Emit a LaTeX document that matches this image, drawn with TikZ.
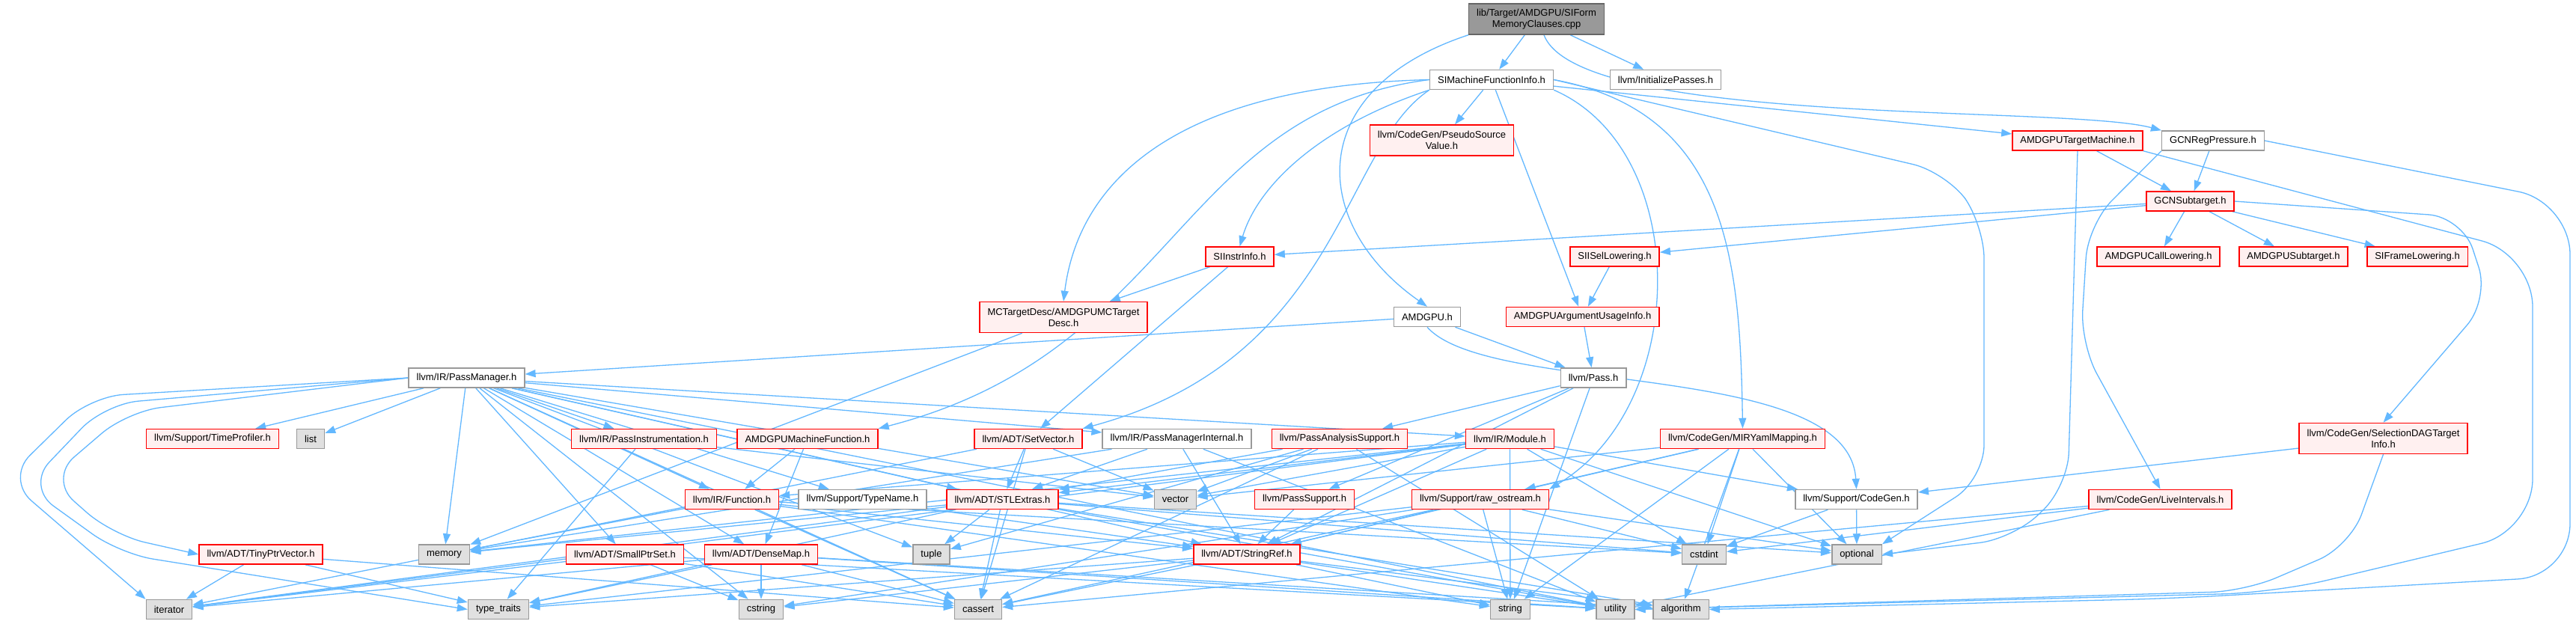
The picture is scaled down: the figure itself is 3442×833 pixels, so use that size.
\documentclass[tikz,border=0pt]{standalone}
\usepackage{fontspec}
\setmainfont{Liberation Sans}
\usepackage{xcolor}
\usepackage{tikz}
\usetikzlibrary{arrows.meta,backgrounds}

\definecolor{edgeblue}{HTML}{63B8FF}
\definecolor{truncred}{HTML}{FF0000}
\definecolor{truncfill}{HTML}{FFF0F0}
\definecolor{boxgray}{HTML}{999999}
\definecolor{sysfill}{HTML}{E0E0E0}
\definecolor{topfill}{HTML}{999999}
\definecolor{topline}{HTML}{666666}

\begin{document}
\begin{tikzpicture}[x=1pt, y=1pt,
  box/.style={draw, line width=1.5pt, minimum height=26pt, inner xsep=10.5pt, inner ysep=2pt,
    font=\fontsize{13pt}{15pt}\selectfont, align=center},
  redbox/.style={box, draw=truncred, fill=truncfill},
  whitebox/.style={box, draw=boxgray, fill=white},
  sysbox/.style={box, draw=boxgray, fill=sysfill},
  topbox/.style={box, draw=topline, fill=topfill},
  twoline/.style={minimum height=41pt},
  edge/.style={draw=edgeblue, line width=1.3pt, -{Triangle[length=14pt,width=10pt]}},
  routed/.style={edge, rounded corners=45pt}]
\useasboundingbox (0,0) rectangle (3442,-833);

% source file and its direct includes
\node[topbox, twoline] (top) at (2053,-25.5) {lib/Target/AMDGPU/SIForm\\MemoryClauses.cpp};
\node[whitebox] (simfi) at (1993,-106.5) {SIMachineFunctionInfo.h};
\node[whitebox] (initp) at (2225.5,-106.5) {llvm/InitializePasses.h};

% AMDGPU target headers
\node[redbox, twoline] (psv) at (1926.5,-187.5) {llvm/CodeGen/PseudoSource\\Value.h};
\node[redbox] (amdtm) at (2776,-188) {AMDGPUTargetMachine.h};
\node[whitebox] (gcnrp) at (2957,-188) {GCNRegPressure.h};
\node[redbox] (gcnsub) at (2926.5,-269) {GCNSubtarget.h};
\node[redbox] (siinstr) at (1656.5,-343) {SIInstrInfo.h};
\node[redbox] (siisel) at (2157.5,-343) {SIISelLowering.h};
\node[redbox] (calllow) at (2884,-343) {AMDGPUCallLowering.h};
\node[redbox] (amdsub) at (3064.5,-343) {AMDGPUSubtarget.h};
\node[redbox] (siframe) at (3230,-343) {SIFrameLowering.h};
\node[redbox, twoline] (mctd) at (1421,-424) {MCTargetDesc/AMDGPUMCTarget\\Desc.h};
\node[whitebox] (amdgpu) at (1907,-423.5) {AMDGPU.h};
\node[redbox] (argusage) at (2114.5,-423.5) {AMDGPUArgumentUsageInfo.h};
\node[whitebox] (pm) at (623.5,-505) {llvm/IR/PassManager.h};
\node[whitebox] (pass) at (2129,-505) {llvm/Pass.h};

% llvm headers, upper row
\node[redbox] (timeprof) at (284,-586.5) {llvm/Support/TimeProfiler.h};
\node[sysbox] (list) at (415,-586.5) {list};
\node[redbox] (passinstr) at (860.5,-586.5) {llvm/IR/PassInstrumentation.h};
\node[redbox] (amdmf) at (1079,-586.5) {AMDGPUMachineFunction.h};
\node[redbox] (setvec) at (1374,-586.5) {llvm/ADT/SetVector.h};
\node[whitebox] (pmint) at (1572.5,-586.5) {llvm/IR/PassManagerInternal.h};
\node[redbox] (passana) at (1790,-586.5) {llvm/PassAnalysisSupport.h};
\node[redbox] (module) at (2017.5,-586.5) {llvm/IR/Module.h};
\node[redbox] (miryaml) at (2328.5,-586.5) {llvm/CodeGen/MIRYamlMapping.h};
\node[redbox, twoline] (seldag) at (3184.5,-586) {llvm/CodeGen/SelectionDAGTarget\\Info.h};

% llvm headers, middle row
\node[redbox] (function) at (978,-667.5) {llvm/IR/Function.h};
\node[whitebox] (typename) at (1152.5,-667.5) {llvm/Support/TypeName.h};
\node[redbox] (stlext) at (1339.5,-667.5) {llvm/ADT/STLExtras.h};
\node[sysbox] (vector) at (1570.5,-667.5) {vector};
\node[redbox] (passsup) at (1743,-667.5) {llvm/PassSupport.h};
\node[redbox] (rawos) at (1978,-667.5) {llvm/Support/raw\_ostream.h};
\node[whitebox] (codegen) at (2480.5,-667.5) {llvm/Support/CodeGen.h};
\node[redbox] (liveint) at (2886.5,-667.5) {llvm/CodeGen/LiveIntervals.h};

% llvm headers, lower row
\node[redbox] (tinyptr) at (348.5,-741) {llvm/ADT/TinyPtrVector.h};
\node[sysbox] (memory) at (593.5,-741) {memory};
\node[redbox] (smallptr) at (835,-741) {llvm/ADT/SmallPtrSet.h};
\node[redbox] (densemap) at (1017,-741) {llvm/ADT/DenseMap.h};
\node[sysbox] (tuple) at (1244.5,-741) {tuple};
\node[redbox] (stringref) at (1666,-741) {llvm/ADT/StringRef.h};
\node[sysbox] (cstdint) at (2277,-741) {cstdint};
\node[sysbox] (optional) at (2481,-741) {optional};

% system headers
\node[sysbox] (iterator) at (226,-814.5) {iterator};
\node[sysbox] (typetraits) at (666,-814.5) {type\_traits};
\node[sysbox] (cstring) at (1017,-814.5) {cstring};
\node[sysbox] (cassert) at (1307,-814.5) {cassert};
\node[sysbox] (string) at (2018,-814.5) {string};
\node[sysbox] (utility) at (2158.5,-814.5) {utility};
\node[sysbox] (algorithm) at (2246,-814.5) {algorithm};

\begin{scope}[on background layer]
\fill[white] (0,0) rectangle (3442,-833);

% includes of the source file
\draw[edge] (top.south west) .. controls (1740,-120) and (1750,-300) .. (amdgpu.north);
\draw[edge] (top) -- (simfi);
\draw[edge] (top) -- (initp);
\draw[edge] ([xshift=10pt]top.south) .. controls (2110,-170) and (2760,-140) .. (gcnrp.north west);

% SIMachineFunctionInfo.h
\foreach \t in {argusage,amdtm,psv} \draw[edge] (simfi) -- (\t);
\draw[edge] (simfi.west) .. controls (1560,-115) and (1440,-250) .. (mctd.north);
\draw[edge] (simfi.west) .. controls (1573,-150) and (1573,-470) .. (amdmf.north east);
\draw[edge] (simfi.south west) .. controls (1791,-200) and (1791,-480) .. (setvec.north east);
\draw[edge] (simfi.south west) .. controls (1760,-170) and (1680,-250) .. (siinstr.north);
\draw[edge] (simfi.south east) .. controls (2260,-200) and (2260,-540) .. (rawos.north east);
\draw[edge] (simfi.east) .. controls (2310,-150) and (2325,-350) .. (miryaml.north);
\draw[routed] (simfi.east) -- (2600,-230) -- (2651,-300) -- (2651,-640) -- (optional.north east);

% AMDGPU.h
\draw[edge] (amdgpu) -- (pm);
\draw[edge] (amdgpu) -- (pass);
\draw[edge] (amdgpu.south) .. controls (1990,-530) and (2470,-480) .. (codegen.north);

% GCNRegPressure.h and AMDGPUTargetMachine.h
\draw[edge] (gcnrp) -- (gcnsub);
\draw[routed] (gcnrp.south west) -- (2790,-300) -- (2780,-460) -- (liveint.north);
\draw[routed, rounded corners=70pt] (gcnrp.east) -- (3434,-270) -- (3434,-770) -- (2900,-800) -- (algorithm.east);
\draw[edge] (amdtm) -- (gcnsub);
\draw[routed] (amdtm.south) -- (2763,-650) -- (2690,-720) -- (optional.east);
\draw[routed, rounded corners=70pt] (amdtm.south east) -- (3384,-340) -- (3384,-710) -- (3040,-792) -- (utility.east);

% GCNSubtarget.h
\foreach \t in {siinstr,siisel,calllow,amdsub,siframe} \draw[edge] (gcnsub) -- (\t);
\draw[routed] (gcnsub.east) -- (3290,-290) -- (3326,-400) -- (seldag.north);
\draw[edge] (seldag) -- (codegen);
\draw[routed] (seldag.south) -- (3140,-730) -- (3000,-790) -- (utility.east);

\draw[edge] (siisel) -- (argusage);
\draw[edge] (argusage) -- (pass);
\foreach \t in {mctd,setvec} \draw[edge] (siinstr) -- (\t);
\draw[edge] (mctd) -- (memory);
\foreach \t in {passana,passsup,stringref,string} \draw[edge] (pass) -- (\t);

% PassManager.h
\foreach \t in {densemap,stlext,smallptr,stringref,function,module,passinstr,pmint,
  timeprof,typename,cassert,cstring,list,memory,tuple,utility,vector}
  \draw[edge] (pm) -- (\t);
\draw[routed] (pm.west) -- (120,-530) -- (8,-640) -- (iterator.north west);
\draw[routed] (pm.west) -- (140,-540) -- (35,-650) -- (160,-740) -- (typetraits.west);
\draw[routed] (pm.west) -- (170,-550) -- (65,-640) -- (150,-715) -- (tinyptr.west);

% lower llvm headers
\foreach \t in {function,densemap} \draw[edge] (amdmf) -- (\t);
\foreach \t in {stlext,vector,iterator,cassert} \draw[edge] (setvec) -- (\t);
\foreach \t in {stlext,stringref,memory,utility} \draw[edge] (pmint) -- (\t);
\foreach \t in {stlext,cassert,tuple,utility,vector} \draw[edge] (passana) -- (\t);
\foreach \t in {stlext,stringref,function,codegen,cstdint,iterator,memory,optional,string,vector}
  \draw[edge] (module) -- (\t);
\foreach \t in {stringref,rawos,algorithm,cstdint,optional,string,vector}
  \draw[edge] (miryaml) -- (\t);
\draw[edge] (passsup) -- (stringref);
\foreach \t in {stringref,cassert,cstdint,cstring,optional,string,typetraits}
  \draw[edge] (rawos) -- (\t);
\foreach \t in {cstdint,optional} \draw[edge] (codegen) -- (\t);
\foreach \t in {cassert,cstdint,utility} \draw[edge] (liveint) -- (\t);
\foreach \t in {stringref,cassert,cstdint,memory,string} \draw[edge] (function) -- (\t);
\draw[edge] (typename) -- (stringref);
\foreach \t in {algorithm,cassert,cstdint,iterator,memory,optional,tuple,typetraits,utility}
  \draw[edge] (stlext) -- (\t);
\foreach \t in {algorithm,cassert,cstring,string,typetraits,utility} \draw[edge] (stringref) -- (\t);
\foreach \t in {algorithm,cassert,cstring,iterator,typetraits,utility} \draw[edge] (densemap) -- (\t);
\foreach \t in {cassert,cstring,iterator,utility} \draw[edge] (smallptr) -- (\t);
\foreach \t in {cassert,iterator,typetraits} \draw[edge] (tinyptr) -- (\t);
\foreach \t in {typetraits,vector} \draw[edge] (passinstr) -- (\t);
\end{scope}

\end{tikzpicture}
\end{document}
